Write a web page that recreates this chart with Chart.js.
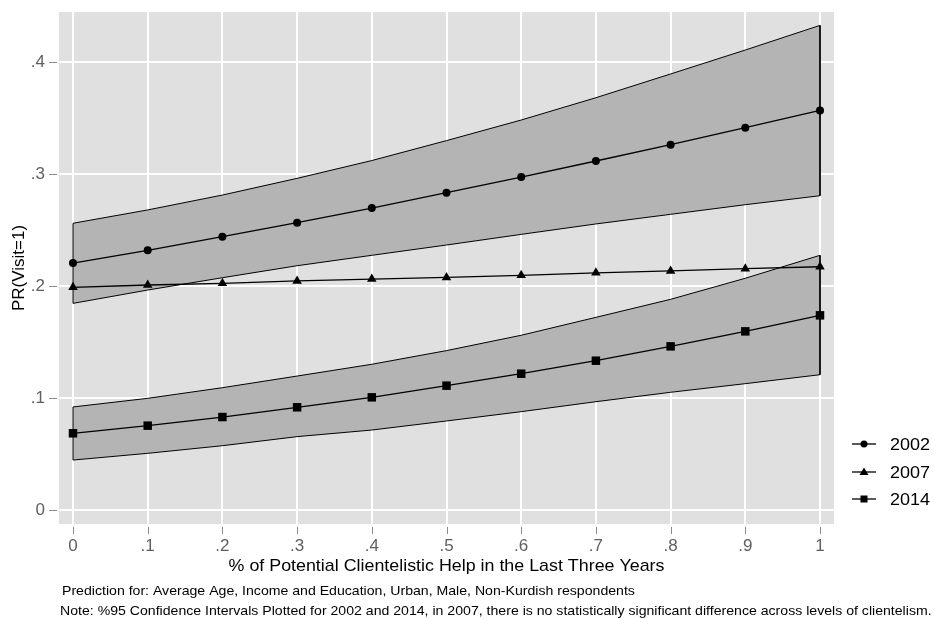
<!DOCTYPE html>
<html>
<head>
<meta charset="utf-8">
<script src="https://cdn.jsdelivr.net/npm/chart.js@4.4.1/dist/chart.umd.min.js"></script>
<style>
  html, body { margin: 0; padding: 0; background: #fff; }
  canvas { display: block; }
</style>
</head>
<body>
<canvas id="chart" width="934" height="619"></canvas>
<script>
const xs = [0, .1, .2, .3, .4, .5, .6, .7, .8, .9, 1]

const pred2002 = [.2205, .2319, .2440, .2565, .2696, .2833, .2973, .3116, .3262, .3414, .3568]
const low2002 = [.1845, .1964, .2074, .2181, .2274, .2366, .2461, .2554, .2640, .2726, .2806]
const high2002 = [.2560, .2679, .2812, .2961, .3120, .3298, .3482, .3681, .3893, .4107, .4327]

const pred2007 = [.1988, .2009, .2024, .2045, .2062, .2077, .2095, .2118, .2135, .2155, .2172]

const pred2014 = [.0685, .0753, .0830, .0917, .1006, .1110, .1217, .1333, .1461, .1595, .1738]
const low2014 = [.0446, .0506, .0574, .0655, .0714, .0795, .0878, .0967, .1051, .1128, .1208]
const high2014 = [.0920, .0997, .1092, .1196, .1301, .1423, .1560, .1720, .1881, .2069, .2274]

const xTicks = [0, .1, .2, .3, .4, .5, .6, .7, .8, .9, 1]
const xTickLabels = ['0', '.1', '.2', '.3', '.4', '.5', '.6', '.7', '.8', '.9', '1']
const yTicks = [0, .1, .2, .3, .4]
const yTickLabels = ['0', '.1', '.2', '.3', '.4']

const seriesNames = ['2002', '2007', '2014']

const FONT = "'Liberation Sans', Arial, Helvetica, sans-serif"

const pts = (ys) => xs.map((x, i) => ({ x: x, y: ys[i] }))

// closed outline: upper edge left->right, lower edge back, then close
const band = (lo, hi) => {
  const upper = pts(hi)
  const lower = pts(lo).reverse()
  return upper.concat(lower, [upper[0]])
}

const bandStyle = {
  showLine: true,
  fill: 'shape',
  backgroundColor: '#b4b4b4',
  borderColor: '#000',
  borderWidth: 1,
  pointRadius: 0,
  tension: 0,
  order: 2
}

const lineStyle = {
  showLine: true,
  fill: false,
  borderColor: '#000',
  borderWidth: 1.3,
  backgroundColor: '#000',
  pointBackgroundColor: '#000',
  pointBorderColor: '#000',
  pointBorderWidth: 0,
  tension: 0,
  order: 1
}

// text drawn a little wider than the font's natural width
function wideText(ctx, str, x, y, sx) {
  ctx.save()
  ctx.translate(x, y)
  ctx.scale(sx, 1)
  ctx.fillText(str, 0, 0)
  ctx.restore()
}

const plotBg = {
  id: 'plotBg',
  beforeDraw(chart) {
    const { ctx, chartArea: a } = chart
    ctx.save()
    ctx.fillStyle = '#e0e0e0'
    ctx.fillRect(a.left, a.top, a.right - a.left, a.bottom - a.top)
    ctx.restore()
  }
}

// tick marks, axis titles, legend and notes
const decorations = {
  id: 'decorations',
  afterDraw(chart) {
    const { ctx, chartArea: a } = chart
    const sx = chart.scales.x
    const sy = chart.scales.y
    ctx.save()

    ctx.strokeStyle = '#8a8a8a'
    ctx.lineWidth = 1
    yTicks.forEach(v => {
      const py = Math.round(sy.getPixelForValue(v)) + 0.5
      ctx.beginPath(); ctx.moveTo(a.left - 10, py); ctx.lineTo(a.left - 2, py); ctx.stroke()
    })
    xTicks.forEach(v => {
      const px = Math.round(sx.getPixelForValue(v)) + 0.5
      ctx.beginPath(); ctx.moveTo(px, a.bottom + 3); ctx.lineTo(px, a.bottom + 10); ctx.stroke()
    })

    ctx.fillStyle = '#000'
    ctx.textBaseline = 'middle'
    ctx.textAlign = 'center'
    ctx.font = '17px ' + FONT
    wideText(ctx, '% of Potential Clientelistic Help in the Last Three Years', (a.left + a.right) / 2, 566, 1.05)

    ctx.save()
    ctx.translate(19, (a.top + a.bottom) / 2)
    ctx.rotate(-Math.PI / 2)
    ctx.fillText('PR(Visit=1)', 0, 0)
    ctx.restore()

    ctx.textAlign = 'left'
    ctx.font = '13px ' + FONT
    wideText(ctx, 'Prediction for: Average Age, Income and Education, Urban, Male, Non-Kurdish respondents', 62, 591, 1.085)
    wideText(ctx, 'Note: %95 Confidence Intervals Plotted for 2002 and 2014, in 2007, there is no statistically significant difference across levels of clientelism.', 60, 611, 1.085)

    // legend
    const legendY = [444, 472, 499]
    const styles = ['circle', 'triangle', 'rect']
    ctx.font = '17px ' + FONT
    seriesNames.forEach((name, i) => {
      const y = legendY[i]
      ctx.strokeStyle = '#000'
      ctx.lineWidth = 1.3
      ctx.beginPath(); ctx.moveTo(852, y); ctx.lineTo(876, y); ctx.stroke()
      ctx.fillStyle = '#000'
      ctx.beginPath()
      if (styles[i] === 'circle') {
        ctx.arc(864, y, 3.5, 0, Math.PI * 2)
      } else if (styles[i] === 'triangle') {
        ctx.moveTo(864, y - 4.5); ctx.lineTo(868.5, y + 3); ctx.lineTo(859.5, y + 3); ctx.closePath()
      } else {
        ctx.rect(860.5, y - 3.5, 7, 7)
      }
      ctx.fill()
      wideText(ctx, name, 890, y + 1, 1.06)
    })

    ctx.restore()
  }
}

new Chart(document.getElementById('chart').getContext('2d'), {
  type: 'scatter',
  data: {
    datasets: [
      Object.assign({ label: seriesNames[0], data: pts(pred2002), pointStyle: 'circle', pointRadius: 4 }, lineStyle),
      Object.assign({ label: seriesNames[1], data: pts(pred2007), pointStyle: 'triangle', pointRadius: 5.5 }, lineStyle),
      Object.assign({ label: seriesNames[2], data: pts(pred2014), pointStyle: 'rect', pointRadius: 6 }, lineStyle),
      Object.assign({ label: 'CI 2002', data: band(low2002, high2002) }, bandStyle),
      Object.assign({ label: 'CI 2014', data: band(low2014, high2014) }, bandStyle)
    ]
  },
  options: {
    responsive: false,
    animation: false,
    devicePixelRatio: 1,
    layout: { padding: { top: 12, right: 100, left: 0, bottom: 0 } },
    plugins: {
      legend: { display: false },
      tooltip: { enabled: false }
    },
    scales: {
      x: {
        type: 'linear',
        min: -14 / 747,
        max: 1 + 14 / 747,
        afterFit: (s) => { s.height = 95; s.paddingLeft = 0; s.paddingRight = 0 },
        afterBuildTicks: (s) => { s.ticks = xTicks.map(v => ({ value: v })) },
        grid: { color: '#fff', lineWidth: 2, drawTicks: false },
        border: { display: false },
        ticks: {
          padding: 12,
          color: '#606060',
          font: { family: FONT, size: 17 },
          maxRotation: 0,
          callback: (v) => xTickLabels[xTicks.indexOf(v)]
        }
      },
      y: {
        type: 'linear',
        min: -14 / 1120,
        max: .4 + 50 / 1120,
        afterFit: (s) => { s.width = 59; s.paddingTop = 0; s.paddingBottom = 0 },
        afterBuildTicks: (s) => { s.ticks = yTicks.map(v => ({ value: v })) },
        grid: { color: '#fff', lineWidth: 2, drawTicks: false },
        border: { display: false },
        ticks: {
          padding: 14,
          color: '#606060',
          font: { family: FONT, size: 17 },
          callback: (v) => yTickLabels[yTicks.indexOf(v)]
        }
      }
    }
  },
  plugins: [plotBg, decorations]
})
</script>
</body>
</html>
